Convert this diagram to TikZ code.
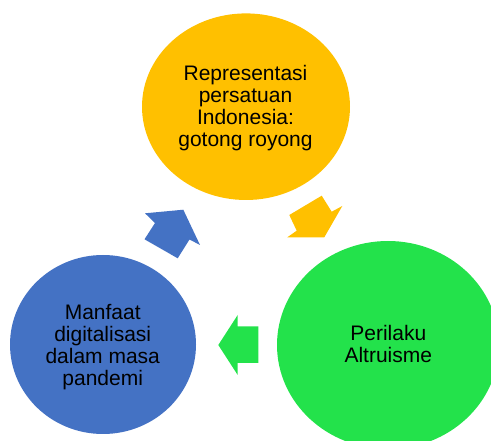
\documentclass[tikz,border=0pt]{standalone}
\usepackage{fontspec}
\setmainfont{Liberation Sans}
\definecolor{cyellow}{HTML}{FFC000}
\definecolor{cblue}{HTML}{4472C4}
\definecolor{cgreen}{HTML}{23E24B}
\begin{document}
\begin{tikzpicture}[x=1pt,y=-1pt,
  blob/.style={ellipse, draw=none, inner sep=0pt},
  lbl/.style={align=center, inner sep=0pt, font=\fontsize{21}{22}\selectfont, text=black}]
\useasboundingbox (0,0) rectangle (491,441);
\clip (0,0) rectangle (491,441);
% circles
\fill[cyellow] (246,106.7) ellipse [x radius=104, y radius=93.3];
\fill[cblue] (103,344.5) ellipse [x radius=93, y radius=89.5];
\fill[cgreen] (388,345) ellipse [x radius=111, y radius=104];
% arrows
\fill[cyellow] (289.3,215) -- (321.7,195.7) -- (331.7,211.7) -- (342.3,206) -- (324.3,237.3) -- (287.3,237.3) -- (296.7,230.7) -- cycle;
\fill[cgreen] (218.3,345) -- (237.7,315) -- (237.7,326.5) -- (258.3,326.5) -- (258.3,363) -- (237.7,363) -- (237.7,375) -- cycle;
\fill[cblue] (145,213.3) -- (183.3,209.7) -- (200,245) -- (189.5,239.5) -- (177.7,258.3) -- (144.5,239.3) -- (155,223) -- cycle;
% labels
\node[lbl] (top) at (245.5,108.4) {Representasi\\persatuan\\Indonesia:\\gotong royong};
\node[lbl] (left) at (102.7,346.7) {Manfaat\\digitalisasi\\dalam masa\\pandemi};
\node[lbl] (right) at (388.3,343.9) {Perilaku\\Altruisme};
\end{tikzpicture}
\end{document}
